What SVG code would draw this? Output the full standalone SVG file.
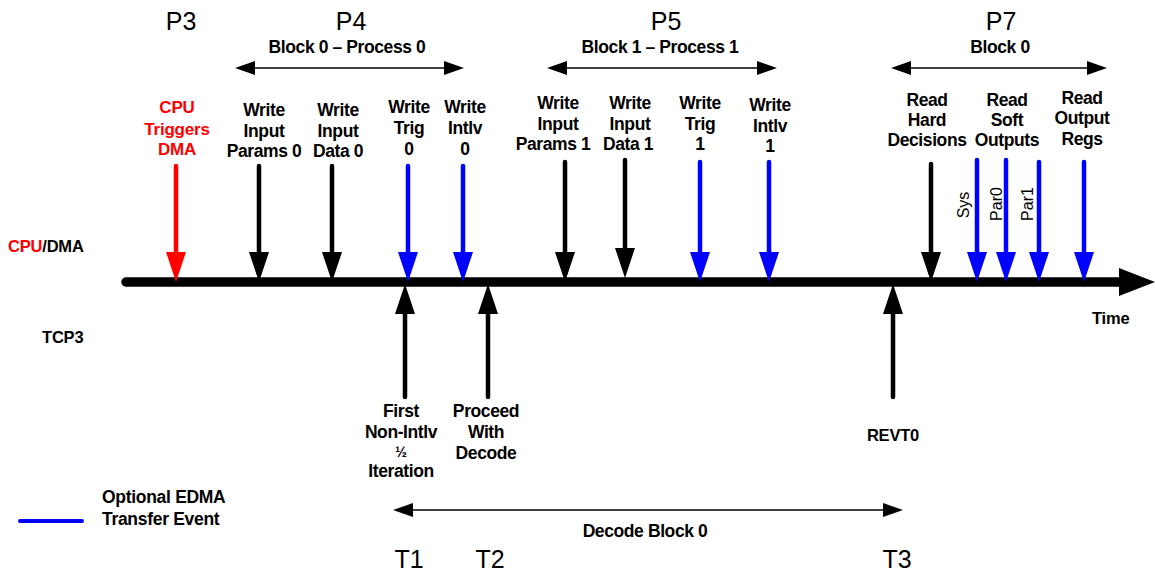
<svg xmlns="http://www.w3.org/2000/svg" width="1155" height="576" viewBox="0 0 1155 576">
  <defs>
    <style>
      .lbl { font-family: "Liberation Sans", Arial, sans-serif; font-weight: bold; font-size: 17.5px; text-anchor: middle; fill: #000; letter-spacing: -0.4px; }
      .lane { font-family: "Liberation Sans", Arial, sans-serif; font-weight: bold; font-size: 16.5px; fill: #000; letter-spacing: -0.2px; }
      .red { fill: #ff0000; }
      .ph { font-family: "Liberation Sans", Arial, sans-serif; font-size: 25px; text-anchor: middle; fill: #000; }
      .blk { font-family: "Liberation Sans", Arial, sans-serif; font-weight: bold; font-size: 17.5px; text-anchor: middle; fill: #000; letter-spacing: -0.4px; }
      .rot { font-family: "Liberation Sans", Arial, sans-serif; font-size: 16px; text-anchor: middle; fill: #000; }
      .stem { stroke-width: 4.5; stroke-linecap: round; fill: none; }
      .k { stroke: #000; } .kf { fill: #000; }
      .b { stroke: #0000ff; } .bf { fill: #0000ff; }
      .r { stroke: #ff0000; } .rf { fill: #ff0000; }
      .span { stroke: #000; stroke-width: 1.6; fill: none; }
    </style>
  </defs>

  <!-- phase headings -->
  <g id="phases">
    <text class="ph" x="181" y="30">P3</text>
    <text class="ph" x="351" y="30">P4</text>
    <text class="ph" x="666" y="30">P5</text>
    <text class="ph" x="1001" y="30">P7</text>
    <text class="ph" x="409" y="568">T1</text>
    <text class="ph" x="490" y="568">T2</text>
    <text class="ph" x="897" y="568">T3</text>
  </g>

  <!-- range arrows -->
  <g id="ranges">
    <text class="blk" x="347" y="53">Block 0 – Process 0</text>
    <line class="span" x1="250" y1="68" x2="450" y2="68"/>
    <polygon class="kf" points="235,68 255,61 255,75"/>
    <polygon class="kf" points="464,68 444,61 444,75"/>

    <text class="blk" x="660" y="53">Block 1 – Process 1</text>
    <line class="span" x1="560" y1="68" x2="762" y2="68"/>
    <polygon class="kf" points="547,68 567,61 567,75"/>
    <polygon class="kf" points="777,68 757,61 757,75"/>

    <text class="blk" x="1000" y="53">Block 0</text>
    <line class="span" x1="905" y1="68" x2="1092" y2="68"/>
    <polygon class="kf" points="891,68 911,61 911,75"/>
    <polygon class="kf" points="1107,68 1087,61 1087,75"/>

    <text class="blk" x="645" y="537">Decode Block 0</text>
    <line class="span" x1="405" y1="510" x2="890" y2="510"/>
    <polygon class="kf" points="393,510 413,503 413,517"/>
    <polygon class="kf" points="903,510 883,503 883,517"/>
  </g>

  <!-- lane labels -->
  <g id="lanes">
    <text class="lane" x="8" y="252"><tspan class="red">CPU</tspan>/DMA</text>
    <text class="lane" x="42" y="343">TCP3</text>
    <text class="lane" x="1092" y="324">Time</text>
  </g>

  <!-- time axis -->
  <g id="axis">
    <line x1="126" y1="282" x2="1125" y2="282" stroke="#000" stroke-width="9.5" stroke-linecap="round"/>
    <polygon class="kf" points="1119,268 1155,282 1119,296"/>
  </g>

  <!-- connectors: event arrows onto the axis -->
  <g id="connectors">
    <line class="stem r" x1="176" y1="166" x2="176" y2="256"/><polygon class="rf" points="166,252 186,252 176,282"/>
    <line class="stem k" x1="259" y1="166" x2="259" y2="256"/><polygon class="kf" points="249,252 269,252 259,282"/>
    <line class="stem k" x1="332" y1="166" x2="332" y2="256"/><polygon class="kf" points="322,252 342,252 332,282"/>
    <line class="stem b" x1="408" y1="166" x2="408" y2="256"/><polygon class="bf" points="398,252 418,252 408,282"/>
    <line class="stem b" x1="463" y1="166" x2="463" y2="256"/><polygon class="bf" points="453,252 473,252 463,282"/>
    <line class="stem k" x1="565" y1="162" x2="565" y2="256"/><polygon class="kf" points="555,252 575,252 565,282"/>
    <line class="stem k" x1="625" y1="160" x2="625" y2="252"/><polygon class="kf" points="615,248 635,248 625,278"/>
    <line class="stem b" x1="700" y1="162" x2="700" y2="256"/><polygon class="bf" points="690,252 710,252 700,282"/>
    <line class="stem b" x1="769" y1="162" x2="769" y2="256"/><polygon class="bf" points="759,252 779,252 769,282"/>
    <line class="stem k" x1="931" y1="164" x2="931" y2="256"/><polygon class="kf" points="921,252 941,252 931,282"/>
    <line class="stem b" x1="977" y1="160" x2="977" y2="256"/><polygon class="bf" points="967,252 987,252 977,282"/>
    <line class="stem b" x1="1006" y1="160" x2="1006" y2="256"/><polygon class="bf" points="996,252 1016,252 1006,282"/>
    <line class="stem b" x1="1039" y1="162" x2="1039" y2="256"/><polygon class="bf" points="1029,252 1049,252 1039,282"/>
    <line class="stem b" x1="1084" y1="162" x2="1084" y2="256"/><polygon class="bf" points="1074,252 1094,252 1084,282"/>

    <line class="stem k" x1="405" y1="397" x2="405" y2="310"/><polygon class="kf" points="395,314 415,314 405,284"/>
    <line class="stem k" x1="488" y1="397" x2="488" y2="310"/><polygon class="kf" points="478,314 498,314 488,284"/>
    <line class="stem k" x1="893" y1="397" x2="893" y2="310"/><polygon class="kf" points="883,314 903,314 893,284"/>
  </g>

  <!-- event labels -->
  <g id="n-cpu-trigger"><text class="lbl red" x="177" style="font-size:17px;letter-spacing:-0.2px"><tspan x="177" y="113">CPU</tspan><tspan x="177" y="135">Triggers</tspan><tspan x="177" y="155">DMA</tspan></text></g>
  <g id="n-params0"><text class="lbl" x="264"><tspan x="264" y="116">Write</tspan><tspan x="264" y="137">Input</tspan><tspan x="264" y="157">Params 0</tspan></text></g>
  <g id="n-data0"><text class="lbl" x="338"><tspan x="338" y="116">Write</tspan><tspan x="338" y="137">Input</tspan><tspan x="338" y="157">Data 0</tspan></text></g>
  <g id="n-trig0"><text class="lbl" x="409"><tspan x="409" y="113">Write</tspan><tspan x="409" y="134">Trig</tspan><tspan x="409" y="155">0</tspan></text></g>
  <g id="n-intlv0"><text class="lbl" x="465"><tspan x="465" y="113">Write</tspan><tspan x="465" y="134">Intlv</tspan><tspan x="465" y="155">0</tspan></text></g>
  <g id="n-params1"><text class="lbl" x="553"><tspan x="558" y="109">Write</tspan><tspan x="558" y="130">Input</tspan><tspan x="553" y="150">Params 1</tspan></text></g>
  <g id="n-data1"><text class="lbl" x="630"><tspan x="630" y="109">Write</tspan><tspan x="630" y="130">Input</tspan><tspan x="628" y="150">Data 1</tspan></text></g>
  <g id="n-trig1"><text class="lbl" x="700"><tspan x="700" y="109">Write</tspan><tspan x="700" y="130">Trig</tspan><tspan x="700" y="150">1</tspan></text></g>
  <g id="n-intlv1"><text class="lbl" x="770"><tspan x="770" y="111">Write</tspan><tspan x="770" y="132">Intlv</tspan><tspan x="770" y="152">1</tspan></text></g>
  <g id="n-hard"><text class="lbl" x="927"><tspan x="927" y="106">Read</tspan><tspan x="927" y="126">Hard</tspan><tspan x="927" y="146">Decisions</tspan></text></g>
  <g id="n-soft"><text class="lbl" x="1007"><tspan x="1007" y="106">Read</tspan><tspan x="1007" y="126">Soft</tspan><tspan x="1007" y="146">Outputs</tspan></text></g>
  <g id="n-regs"><text class="lbl" x="1082"><tspan x="1082" y="104">Read</tspan><tspan x="1082" y="124">Output</tspan><tspan x="1082" y="145">Regs</tspan></text></g>
  <g id="n-sys"><text class="rot" transform="translate(969,205) rotate(-90)">Sys</text></g>
  <g id="n-par0"><text class="rot" transform="translate(1002,204) rotate(-90)">Par0</text></g>
  <g id="n-par1"><text class="rot" transform="translate(1033,204) rotate(-90)">Par1</text></g>
  <g id="n-first"><text class="lbl" x="401"><tspan x="401" y="417">First</tspan><tspan x="401" y="438">Non-Intlv</tspan><tspan x="401" y="457" style="font-size:14px">½</tspan><tspan x="401" y="477">Iteration</tspan></text></g>
  <g id="n-proceed"><text class="lbl" x="486"><tspan x="486" y="417">Proceed</tspan><tspan x="486" y="438">With</tspan><tspan x="486" y="459">Decode</tspan></text></g>
  <g id="n-revt0"><text class="lane" x="893" y="441" style="text-anchor:middle">REVT0</text></g>

  <!-- legend -->
  <g id="legend">
    <line x1="20" y1="521" x2="82" y2="521" stroke="#0000ff" stroke-width="4" stroke-linecap="round"/>
    <text class="lbl" x="102" y="503" style="text-anchor:start;font-size:17.5px;letter-spacing:-0.3px">Optional EDMA</text>
    <text class="lbl" x="102" y="525" style="text-anchor:start;font-size:17.5px;letter-spacing:-0.3px">Transfer Event</text>
  </g>
</svg>
